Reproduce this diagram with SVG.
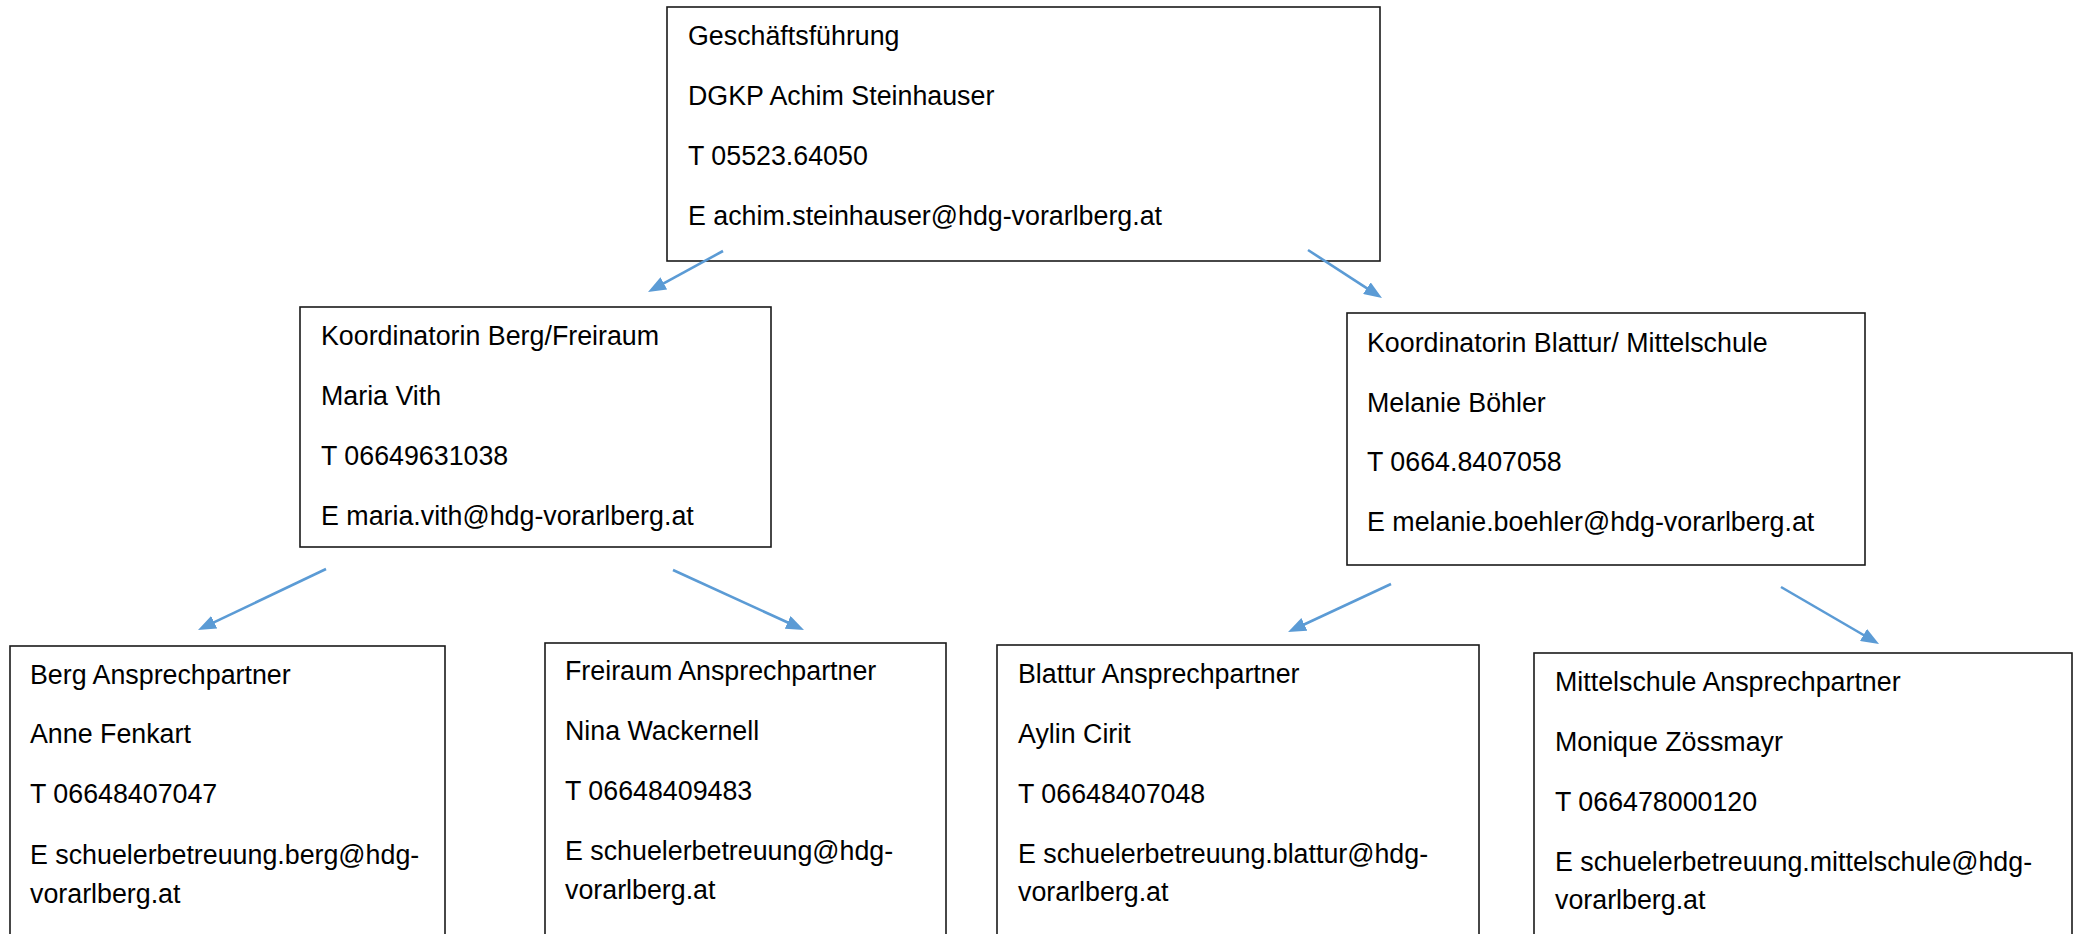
<svg xmlns="http://www.w3.org/2000/svg" width="2078" height="934" viewBox="0 0 2078 934">
<style>
.box{fill:#fff;stroke:#1a1a1a;stroke-width:1.6}
.t{font-family:"Liberation Sans",Arial,sans-serif;font-size:26.8px;fill:#000}
.c{fill:none;stroke:#5B9BD5;stroke-width:2.6;marker-end:url(#ah)}
</style>
<defs>
<marker id="ah" viewBox="0 0 18 14" refX="8" refY="7" markerWidth="18" markerHeight="14" markerUnits="userSpaceOnUse" orient="auto">
<path d="M0,0 L18,7 L0,14 z" fill="#5B9BD5"/>
</marker>
</defs>
<rect width="2078" height="934" fill="#fff"/>
<g id="geschaeftsfuehrung">
<rect class="box" x="667" y="7" width="713" height="254"/>
<text class="t" x="688" y="45">Geschäftsführung</text>
<text class="t" x="688" y="105">DGKP Achim Steinhauser</text>
<text class="t" x="688" y="165">T 05523.64050</text>
<text class="t" x="688" y="225">E achim.steinhauser@hdg-vorarlberg.at</text>
</g>
<g id="koord-berg-freiraum">
<rect class="box" x="300" y="307" width="471" height="240"/>
<text class="t" x="321" y="345">Koordinatorin Berg/Freiraum</text>
<text class="t" x="321" y="405">Maria Vith</text>
<text class="t" x="321" y="465">T 06649631038</text>
<text class="t" x="321" y="525">E maria.vith@hdg-vorarlberg.at</text>
</g>
<g id="koord-blattur-mittelschule">
<rect class="box" x="1347" y="313" width="518" height="252"/>
<text class="t" x="1367" y="352">Koordinatorin Blattur/ Mittelschule</text>
<text class="t" x="1367" y="412">Melanie Böhler</text>
<text class="t" x="1367" y="471">T 0664.8407058</text>
<text class="t" x="1367" y="531">E melanie.boehler@hdg-vorarlberg.at</text>
</g>
<g id="berg">
<rect class="box" x="10" y="646" width="435" height="320"/>
<text class="t" x="30" y="684">Berg Ansprechpartner</text>
<text class="t" x="30" y="743">Anne Fenkart</text>
<text class="t" x="30" y="803">T 06648407047</text>
<text class="t" x="30" y="864">E schuelerbetreuung.berg@hdg-</text>
<text class="t" x="30" y="903">vorarlberg.at</text>
</g>
<g id="freiraum">
<rect class="box" x="545" y="643" width="401" height="320"/>
<text class="t" x="565" y="680">Freiraum Ansprechpartner</text>
<text class="t" x="565" y="740">Nina Wackernell</text>
<text class="t" x="565" y="800">T 06648409483</text>
<text class="t" x="565" y="860">E schuelerbetreuung@hdg-</text>
<text class="t" x="565" y="899">vorarlberg.at</text>
</g>
<g id="blattur">
<rect class="box" x="997" y="645" width="482" height="320"/>
<text class="t" x="1018" y="683">Blattur Ansprechpartner</text>
<text class="t" x="1018" y="743">Aylin Cirit</text>
<text class="t" x="1018" y="803">T 06648407048</text>
<text class="t" x="1018" y="863">E schuelerbetreuung.blattur@hdg-</text>
<text class="t" x="1018" y="901">vorarlberg.at</text>
</g>
<g id="mittelschule">
<rect class="box" x="1534" y="653" width="538" height="320"/>
<text class="t" x="1555" y="691">Mittelschule Ansprechpartner</text>
<text class="t" x="1555" y="751">Monique Zössmayr</text>
<text class="t" x="1555" y="811">T 066478000120</text>
<text class="t" x="1555" y="871">E schuelerbetreuung.mittelschule@hdg-</text>
<text class="t" x="1555" y="909">vorarlberg.at</text>
</g>
<g id="connectors">
<path class="c" d="M723,251 L656.8,287.2"/>
<path class="c" d="M1308,250 L1373.6,292.6"/>
<path class="c" d="M326,569 L207,625.7"/>
<path class="c" d="M673,570 L794.9,625.8"/>
<path class="c" d="M1391,584 L1297.1,627.8"/>
<path class="c" d="M1781,587 L1870.4,639"/>
</g>
</svg>
